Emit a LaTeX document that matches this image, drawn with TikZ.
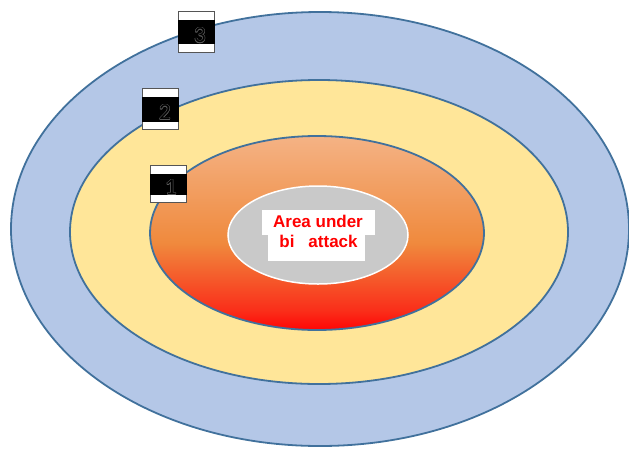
\documentclass[tikz,border=0pt]{standalone}
\usepackage{fontspec}
\setmainfont{Liberation Sans}
\newfontfamily\digitfont{Carlito}
\definecolor{ringblue}{HTML}{B4C7E7}
\definecolor{ringyellow}{HTML}{FFE699}
\definecolor{outl}{HTML}{41719C}
\definecolor{coregray}{HTML}{C9C9C9}
\definecolor{digitedge}{HTML}{5A5A5A}
\definecolor{boxedge}{HTML}{555555}
\pgfdeclareverticalshading{coreheat}{100bp}{rgb(0bp)=(1,0.02,0.02); rgb(25bp)=(1,0.02,0.02); rgb(30bp)=(0.98,0.18,0.1); rgb(47.5bp)=(0.94,0.54,0.24); rgb(75bp)=(0.957,0.70,0.52); rgb(100bp)=(0.957,0.70,0.52)}
\newcommand\olcopy[3]{\rlap{\hspace{#1}\raisebox{#2}{\color{digitedge}#3}}}
\newcommand\olnum[1]{\leavevmode\olcopy{0.5pt}{0pt}{#1}\olcopy{-0.5pt}{0pt}{#1}\olcopy{0pt}{0.5pt}{#1}\olcopy{0pt}{-0.5pt}{#1}\olcopy{0.35pt}{0.35pt}{#1}\olcopy{-0.35pt}{0.35pt}{#1}\olcopy{0.35pt}{-0.35pt}{#1}\olcopy{-0.35pt}{-0.35pt}{#1}{\color{black}#1}}
\tikzset{
  ring/.style={draw=outl, line width=1.8pt},
  numbox/.style={draw=boxedge, line width=0.7pt, fill=white, inner sep=0pt,
    minimum width=36pt, anchor=north west},
  band/.style={fill=black},
  digit/.style={font=\digitfont\fontsize{23}{23}\selectfont, inner sep=0pt, anchor=base},
  label/.style={font=\bfseries\fontsize{17}{20}\selectfont, text=red, inner sep=0pt, anchor=base},
}
\begin{document}
\begin{tikzpicture}[x=1pt,y=-1pt]
\useasboundingbox (0,0) rectangle (629,448);
% rings
\path[ring, fill=ringblue] (320,229) ellipse [x radius=309, y radius=217];
\path[ring, fill=ringyellow] (319,232) ellipse [x radius=249, y radius=152];
\path[ring, shading=coreheat] (317,233) ellipse [x radius=167, y radius=97];
\path[draw=white, line width=1.5pt, fill=coregray] (318,235) ellipse [x radius=90, y radius=49];
% label background
\fill[white] (262,210) rectangle (375,235);
\fill[white] (268,235) rectangle (365,261);
\node[label] (t1) at (318,227) {Area under};
\node[label] (t2) at (318.5,247) {bi\hspace{14pt}attack};
% number boxes
\node[numbox, minimum height=41pt] (b3) at (178,11) {};
\fill[band] ([yshift=-9pt]b3.north west) rectangle ([yshift=9pt]b3.south east);
\node[digit] (d3) at ([xshift=3.5pt,yshift=10pt]b3.south) {\olnum{3}};
\node[numbox, minimum height=41pt] (b2) at (142,88) {};
\fill[band] ([yshift=-9pt]b2.north west) rectangle ([yshift=8pt]b2.south east);
\node[digit] (d2) at ([xshift=4.5pt,yshift=10pt]b2.south) {\olnum{2}};
\node[numbox, minimum height=37pt] (b1) at (150,165) {};
\fill[band] ([yshift=-9pt]b1.north west) rectangle ([yshift=8pt]b1.south east);
\node[digit] (d1) at ([xshift=2.5pt,yshift=8pt]b1.south) {\olnum{1}};
\end{tikzpicture}
\end{document}
